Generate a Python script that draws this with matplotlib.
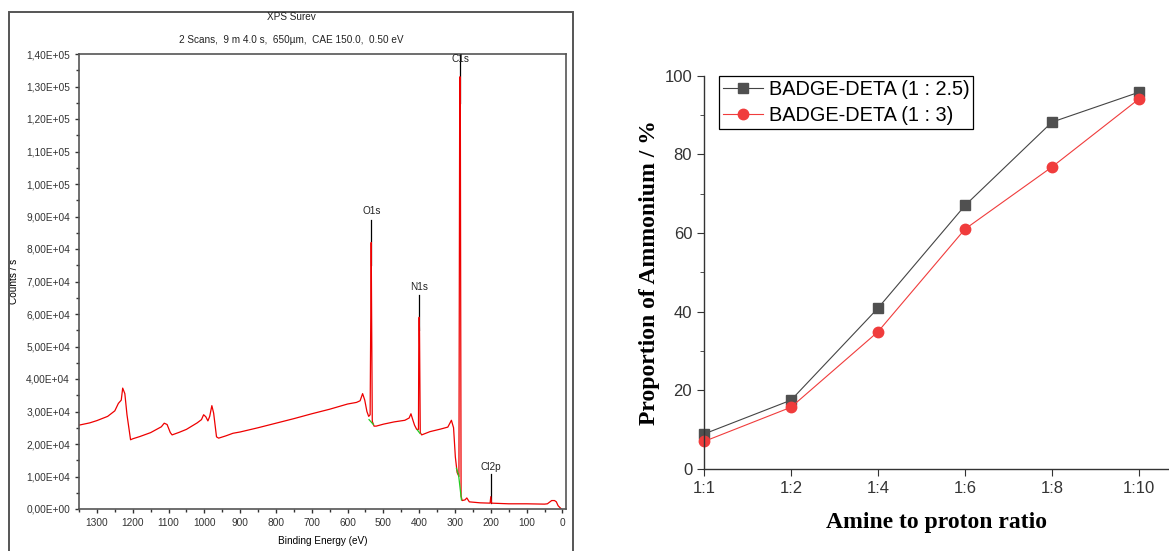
import numpy as np
import matplotlib
matplotlib.use("Agg")
import matplotlib.pyplot as plt
from matplotlib.ticker import MultipleLocator, FuncFormatter
from matplotlib.patches import Rectangle

# ---- XPS survey ----
binding_energy = [1350, 1320, 1300, 1270, 1250, 1240, 1232, 1228, 1222, 1216, 1206, 1200,
                  1180, 1150, 1120, 1112, 1104, 1095, 1090, 1070, 1050, 1020, 1008, 1002,
                  996, 990, 985, 979, 974, 966, 960, 940, 920, 900, 850, 800, 750, 700,
                  650, 600, 575, 565, 558, 552, 546, 541, 537, 535, 534, 533, 531, 526,
                  520, 500, 470, 440, 428, 423, 418, 413, 407, 402, 401, 400, 399, 397,
                  393, 370, 340, 320, 310, 304, 299, 294, 289, 287, 286, 285, 283, 280,
                  272, 267, 260, 230, 202, 200, 198, 150, 100, 50, 42, 30, 22, 17, 12, 3]
counts = [25.8e3, 26.5e3, 27.2e3, 28.5e3, 30.2e3, 32.5e3, 33.5e3, 37.2e3, 35.5e3, 29e3, 21.3e3, 21.6e3,
          22.3e3, 23.5e3, 25.3e3, 26.4e3, 26e3, 23.5e3, 22.8e3, 23.6e3, 24.5e3, 26.5e3, 27.5e3, 29e3,
          28.4e3, 27.1e3, 28.5e3, 31.8e3, 29.5e3, 22.2e3, 21.8e3, 22.5e3, 23.3e3, 23.7e3, 25e3, 26.4e3, 27.8e3, 29.3e3,
          30.7e3, 32.3e3, 32.8e3, 33.3e3, 35.5e3, 33.5e3, 30e3, 28.5e3, 29e3, 63e3, 82e3, 63e3, 27e3, 25.5e3,
          25.5e3, 26.1e3, 26.8e3, 27.3e3, 28e3, 29.3e3, 27.5e3, 25.8e3, 24.5e3, 24.5e3, 54e3, 59e3, 54e3, 23.5e3,
          22.8e3, 23.8e3, 24.6e3, 25.2e3, 27.3e3, 25e3, 16e3, 11.2e3, 10e3, 120e3, 133e3, 120e3, 4e3, 2.6e3,
          2.8e3, 3.4e3, 2.2e3, 1.9e3, 1.8e3, 3.8e3, 1.8e3, 1.6e3, 1.6e3, 1.5e3, 1.6e3, 2.6e3, 2.6e3, 2.2e3, 1e3, 0]

# background segments under the peaks (green)
bg_o_x = [540, 528]
bg_o_y = [27.5e3, 26e3]
bg_n_x = [405, 398]
bg_n_y = [24.3e3, 23.3e3]
bg_c_x = [296, 290, 282]
bg_c_y = [12.5e3, 10.5e3, 2.8e3]

peak_names = ["C1s", "O1s", "N1s", "Cl2p"]
peak_pos = [286, 534, 400, 199]
peak_base = [125e3, 75e3, 55e3, 2e3]
peak_top = [140e3, 88.9e3, 65.8e3, 10.8e3]
label_y = [138.5e3, 91.7e3, 68.3e3, 12.9e3]

# ---- Ammonium proportion ----
ratios = ["1:1", "1:2", "1:4", "1:6", "1:8", "1:10"]
deta_25 = [8.9, 17.5, 40.9, 67.0, 88.2, 95.8]
deta_3 = [7.0, 15.7, 34.9, 61.0, 76.8, 94.1]

fig = plt.figure(figsize=(11.69, 5.51), dpi=100)

# outer frame of the left (instrument) figure
fig.patches.append(Rectangle((9 / 1169, -0.02), (573 - 9) / 1169, 1 - 12 / 551 + 0.02,
                             transform=fig.transFigure, fill=False, edgecolor="#555555", lw=1.4))
fig.text(291 / 1169, 1 - 17 / 551, "XPS Surev", ha="center", va="center", fontsize=7.2,
         family="Liberation Sans", color="#222222")
fig.text(291 / 1169, 1 - 40 / 551, "2 Scans,  9 m 4.0 s,  650µm,  CAE 150.0,  0.50 eV",
         ha="center", va="center", fontsize=7.2, family="Liberation Sans", color="#222222")

ax1 = fig.add_axes([79 / 1169, 1 - 509 / 551, (566 - 79) / 1169, (509 - 54) / 551])
for pos, base, top in zip(peak_pos, peak_base, peak_top):
    ax1.plot([pos, pos], [base, top], color="black", lw=0.9, zorder=1)
ax1.plot(binding_energy, counts, color="#ee0000", lw=0.9, zorder=2)
ax1.plot(bg_o_x, bg_o_y, color="#22cc22", lw=0.9, zorder=3)
ax1.plot(bg_n_x, bg_n_y, color="#22cc22", lw=0.9, zorder=3)
ax1.plot(bg_c_x, bg_c_y, color="#22cc22", lw=0.9, zorder=3)
for name, pos, ly in zip(peak_names, peak_pos, label_y):
    ax1.text(pos, ly, name, ha="center", va="center", fontsize=7.2, family="Liberation Sans",
             color="#222222", zorder=4)

ax1.set_xlim(1350, -10)
ax1.set_ylim(0, 1.4e5)
ax1.xaxis.set_major_locator(MultipleLocator(100))
ax1.xaxis.set_minor_locator(MultipleLocator(50))
ax1.yaxis.set_major_locator(MultipleLocator(1e4))
ax1.yaxis.set_minor_locator(MultipleLocator(5e3))
ax1.yaxis.set_major_formatter(FuncFormatter(lambda v, p: ("%.2E" % v).replace(".", ",")))
ax1.tick_params(which="both", direction="out", labelsize=7.3, colors="#333333", width=1)
ax1.tick_params(which="major", length=3)
ax1.tick_params(which="minor", length=2.5)
for lab in ax1.get_xticklabels() + ax1.get_yticklabels():
    lab.set_family("Liberation Sans")
for s in ax1.spines.values():
    s.set_color("#555555")
    s.set_linewidth(1.2)
ax1.set_xlabel("Binding Energy (eV)", fontsize=7.2, family="Liberation Sans", labelpad=6)
ax1.set_ylabel("Counts / s", fontsize=7.2, family="Liberation Sans", labelpad=5)

# right panel
ax2 = fig.add_axes([704 / 1169, 1 - 469 / 551, (1169 - 704) / 1169, (469 - 75.7) / 551])
x = np.arange(len(ratios))
ax2.plot(x, deta_25, color="#444444", lw=0.8, marker="s", markersize=7,
         markerfacecolor="#505050", markeredgecolor="#505050", label="BADGE-DETA (1 : 2.5)", clip_on=False)
ax2.plot(x, deta_3, color="#f03c3c", lw=0.8, marker="o", markersize=7.5,
         markerfacecolor="#f03c3c", markeredgecolor="#f03c3c", label="BADGE-DETA (1 : 3)", clip_on=False)
ax2.set_xlim(0, (1169 - 704) / 87.0)
ax2.set_ylim(0, 100)
ax2.set_xticks(x)
ax2.set_xticklabels(ratios)
ax2.yaxis.set_major_locator(MultipleLocator(20))
ax2.yaxis.set_minor_locator(MultipleLocator(10))
ax2.spines["top"].set_visible(False)
ax2.spines["right"].set_visible(False)
for s in ["left", "bottom"]:
    ax2.spines[s].set_color("#333333")
    ax2.spines[s].set_linewidth(1.0)
ax2.tick_params(which="both", direction="out", labelsize=12, colors="#333333")
ax2.tick_params(which="major", length=5)
ax2.tick_params(which="minor", length=3)
for lab in ax2.get_xticklabels() + ax2.get_yticklabels():
    lab.set_family("Liberation Sans")
ax2.set_xlabel("Amine to proton ratio", fontsize=17, fontweight="bold",
               family="Liberation Serif", labelpad=12)
ax2.set_ylabel("Proportion of Ammonium / %", fontsize=17, fontweight="bold",
               family="Liberation Serif", labelpad=3)
leg = ax2.legend(loc="upper left", bbox_to_anchor=(0.032, 1.0), borderaxespad=0,
                 fancybox=False, edgecolor="black", framealpha=1,
                 prop={"family": "Liberation Sans", "size": 14.3}, handlelength=2.0,
                 borderpad=0.2, labelspacing=0.35, handletextpad=0.3)
leg.get_frame().set_linewidth(0.9)

fig.savefig("out.png", dpi=100)
